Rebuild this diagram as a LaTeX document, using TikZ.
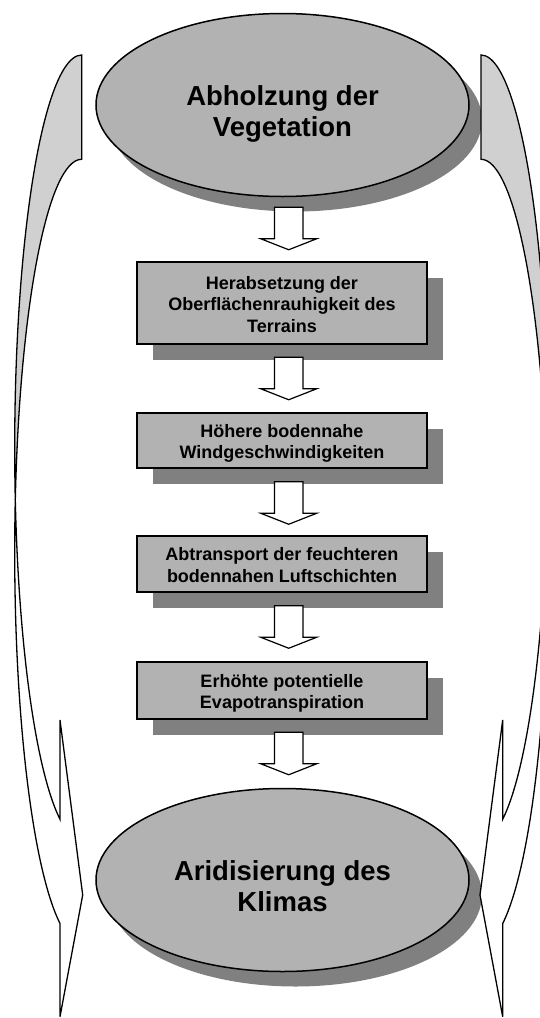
\documentclass[tikz,border=0pt]{standalone}
\usepackage{fontspec}
\setmainfont{Liberation Sans}
\usetikzlibrary{shapes.geometric,shadows,calc}
\definecolor{fillgray}{RGB}{178,178,178}
\definecolor{shadowgray}{RGB}{128,128,128}
\definecolor{backgray}{RGB}{208,208,208}
\newcommand{\sidebackpath}{(81.7,-55) arc[start angle=90,end angle=187.63,x radius=67,y radius=392.7] arc[start angle=172.37,end angle=90,x radius=67,y radius=392.7] -- cycle}
\newcommand{\sidefrontpath}{(15.29,-499.85) arc[start angle=187.63,end angle=251.1,x radius=67,y radius=392.7] -- (60,-720) -- (82.7,-895) -- (60,-1016.7) -- (60,-923.5) arc[start angle=251.1,end angle=172.37,x radius=67,y radius=392.7] -- cycle}
\newcommand{\boxtop}{\rule{0pt}{19pt}}
\newcommand{\boxbot}{\rule[-3.8pt]{0pt}{3.8pt}}
\newcommand{\ovaltop}{\rule{0pt}{38pt}}
\newcommand{\ovalbot}{\rule[-5.8pt]{0pt}{5.8pt}}
\begin{document}
\begin{tikzpicture}[x=1pt,y=1pt,
  oval/.style={ellipse, draw=black, line width=1.5pt, fill=fillgray,
    minimum width=373pt, minimum height=183pt, inner sep=0pt, align=center,
    font=\fontsize{27.5}{31}\selectfont\bfseries,
    drop shadow={shadow xshift=13pt, shadow yshift=-15pt, opacity=1, fill=shadowgray, draw=none}},
  stepbox/.style={rectangle, draw=black, line width=1.5pt, fill=fillgray,
    minimum width=290pt, inner sep=0pt, align=center,
    font=\fontsize{18}{21.5}\selectfont\bfseries,
    drop shadow={shadow xshift=16pt, shadow yshift=-16pt, opacity=1, fill=shadowgray, draw=none}},
  blockarr/.style={draw=black, line width=1.2pt, fill=white, line join=miter},
  backpart/.style={draw=black, line width=1.3pt, fill=backgray},
  frontpart/.style={draw=black, line width=1.3pt, fill=white},
  downarr/.pic={\path[blockarr] (-14.3,0) -- (14.3,0) -- (14.3,-31.5) -- (28,-31.5) -- (0,-42.5) -- (-28,-31.5) -- (-14.3,-31.5) -- cycle;}
]
\useasboundingbox (0,0) rectangle (539,-1018);

\node[oval] (e1) at (282.5,-105) {\ovaltop Abholzung der\\Vegetation\ovalbot};
\node[stepbox, minimum height=82pt] (b1) at (282,-303) {\boxtop Herabsetzung der\\Oberflächenrauhigkeit des\\Terrains\boxbot};
\node[stepbox, minimum height=55pt] (b2) at (282,-440.5) {\boxtop Höhere bodennahe\\Windgeschwindigkeiten\boxbot};
\node[stepbox, minimum height=56pt] (b3) at (282,-564) {\boxtop Abtransport der feuchteren\\bodennahen Luftschichten\boxbot};
\node[stepbox, minimum height=57pt] (b4) at (282,-690.5) {\boxtop Erhöhte potentielle\\Evapotranspiration\boxbot};
\node[oval] (e2) at (282.5,-880) {\ovaltop Aridisierung des\\Klimas\ovalbot};

\pic at ($(e1.south)+(6.2,-10)$) {downarr};
\pic at ($(b1.south)+(6.7,-12.5)$) {downarr};
\pic at ($(b2.south)+(6.7,-13)$) {downarr};
\pic at ($(b3.south)+(6.7,-13)$) {downarr};
\pic at ($(b4.south)+(6.7,-12.5)$) {downarr};

% left curved arrow
\path[backpart] \sidebackpath;
\path[frontpart] \sidefrontpath;
% right curved arrow (mirror)
\begin{scope}[xshift=562.7pt, xscale=-1]
\path[backpart] \sidebackpath;
\path[frontpart] \sidefrontpath;
\end{scope}
\end{tikzpicture}
\end{document}
